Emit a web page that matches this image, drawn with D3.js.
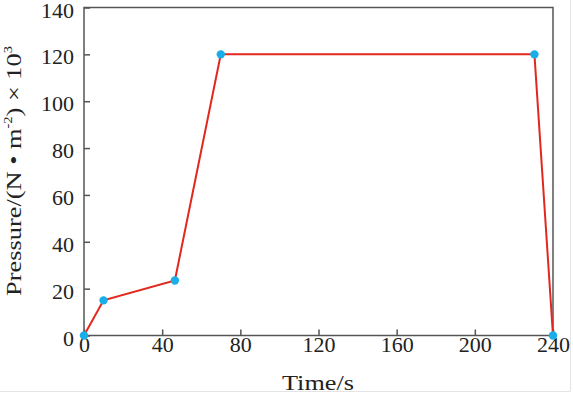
<!DOCTYPE html>
<html>
<head>
<meta charset="utf-8">
<script src="https://cdn.jsdelivr.net/npm/d3@7"></script>
<style>
  body { margin: 0; background: #fff; }
</style>
</head>
<body>
<div id="chart"></div>
<script>
// data
const times = [0, 10, 46.5, 70, 230.5, 240];
const pressures = [0, 15, 23.5, 120, 120, 0];
const xTicks = [0, 40, 80, 120, 160, 200, 240];
const yTicks = [0, 20, 40, 60, 80, 100, 120, 140];

const W = 573, H = 393;
const margin = {top: 7.5, right: 20, bottom: 57.5, left: 84};
const width = W - margin.left - margin.right,
  height = H - margin.top - margin.bottom;

const FONT = "'Liberation Serif'";
const textColor = "#222";

const svg = d3.select("#chart").append("svg")
  .attr("width", W).attr("height", H);

// faint outer edge
svg.append("path")
  .attr("d", "M" + (W - 2.5) + ",0V" + (H - 1.5) + "H0")
  .attr("fill", "none").attr("stroke", "#e4e4e4").attr("stroke-width", 1);

const g = svg.append("g")
  .attr("transform", "translate(" + margin.left + "," + margin.top + ")");

const x = d3.scaleLinear().domain([0, 240]).range([0, width]);
const y = d3.scaleLinear().domain([0, 140]).range([height, 0]);

const axisColor = "#555";

// frame
g.append("rect")
  .attr("width", width).attr("height", height)
  .attr("fill", "none").attr("stroke", axisColor).attr("stroke-width", 1.5);

// x axis, ticks pointing inward
const xApp = g.append("g")
  .attr("transform", "translate(0," + height + ")")
  .call(d3.axisBottom(x).tickValues(xTicks).tickSize(-6).tickPadding(0).tickFormat(d3.format("d")));
xApp.select(".domain").remove();
xApp.selectAll("line").attr("stroke", axisColor).attr("stroke-width", 1.5);
xApp.selectAll("text")
  .attr("y", 16.5).attr("dy", 0)
  .style("font-family", FONT).style("font-size", "22px").attr("fill", textColor);

// y axis, ticks pointing inward
const yApp = g.append("g")
  .call(d3.axisLeft(y).tickValues(yTicks).tickSize(-6).tickPadding(0).tickFormat(d3.format("d")));
yApp.select(".domain").remove();
yApp.selectAll("line").attr("stroke", axisColor).attr("stroke-width", 1.5);
yApp.selectAll("text")
  .attr("x", -10).attr("dy", 9.5)
  .style("font-family", FONT).style("font-size", "22px").attr("fill", textColor);

// line
const line = d3.line()
  .x((d, i) => x(times[i]))
  .y(d => y(d));

g.append("path")
  .attr("d", line(pressures))
  .attr("fill", "none")
  .attr("stroke", "#e2281c")
  .attr("stroke-width", 2);

g.selectAll(".pt")
  .data(pressures)
  .enter().append("circle")
  .attr("class", "pt")
  .attr("cx", (d, i) => x(times[i]))
  .attr("cy", d => y(d))
  .attr("r", 4.2)
  .attr("fill", "#19aee8");

// stretch a title along its own direction to a target length
function stretch(sel, target, base) {
  const w = sel.node().getBBox().width;
  sel.attr("transform", base + " scale(" + (target / w) + ",1)");
}

// axis titles
const xt = svg.append("text")
  .attr("text-anchor", "middle")
  .style("font-family", FONT).style("font-size", "22px").attr("fill", textColor)
  .text("Time/s");
stretch(xt, 72, "translate(" + (margin.left + width / 2 - 0.5) + ",389.5)");

const yt = svg.append("text")
  .attr("text-anchor", "middle")
  .style("font-family", FONT).style("font-size", "22px").attr("fill", textColor);
yt.append("tspan").text("Pressure/(N • m");
yt.append("tspan").style("font-size", "12px").attr("dy", -9).text("-2");
yt.append("tspan").attr("dy", 9).text(") × 10");
yt.append("tspan").style("font-size", "12px").attr("dy", -9).text("3");
stretch(yt, 250, "translate(21,171) rotate(-90)");
</script>
</body>
</html>
